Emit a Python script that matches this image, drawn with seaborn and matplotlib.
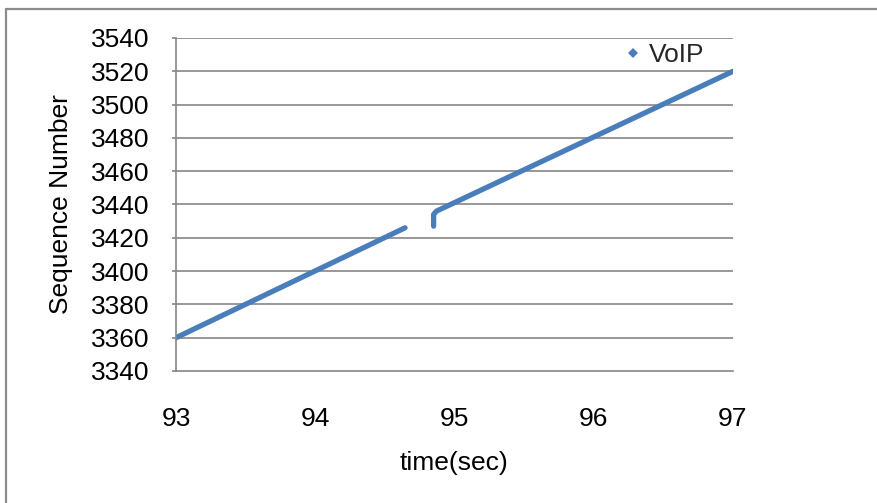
import matplotlib
matplotlib.use("Agg")
import matplotlib.pyplot as plt
from matplotlib.lines import Line2D
import seaborn as sns
import pandas as pd

# Sequence numbers of received VoIP packets (two runs separated by a loss gap)
run1_time = [93.0, 94.645]
run1_seq = [3360, 3426]
run2_time = [94.85, 94.85, 94.87, 97.0]
run2_seq = [3427, 3434, 3436, 3520]

y_ticks = list(range(3340, 3541, 20))
x_ticks = [93, 94, 95, 96, 97]

sns.set_theme(style="white")
plt.rcParams["font.family"] = ["Liberation Sans", "DejaVu Sans"]

FS = 19

fig = plt.figure(figsize=(8.78, 5.03), dpi=100)
ax = fig.add_axes([176 / 878, 1 - 371 / 503, 557 / 878, 333 / 503])

blue = "#4A7EBB"
grey = "#868686"

df = pd.concat([
    pd.DataFrame({"time": run1_time, "seq": run1_seq, "run": "a"}),
    pd.DataFrame({"time": run2_time, "seq": run2_seq, "run": "b"}),
])
sns.lineplot(data=df, x="time", y="seq", units="run", estimator=None, sort=False,
             color=blue, linewidth=3.8, solid_capstyle="round", solid_joinstyle="round",
             ax=ax, legend=False)

ax.set_xlim(93, 97)
ax.set_ylim(3340, 3540)
ax.set_xticks(x_ticks)
ax.set_yticks(y_ticks)
ax.grid(False)
for y in y_ticks[1:]:
    ax.axhline(y, color=grey, linewidth=1.2, zorder=0)

for side in ("top", "right"):
    ax.spines[side].set_visible(False)
for side in ("left", "bottom"):
    ax.spines[side].set_color(grey)
    ax.spines[side].set_linewidth(1.2)

ax.tick_params(axis="y", which="both", left=True, length=3, width=1.2, color=grey,
               pad=16, labelsize=FS, labelcolor="black")
ax.tick_params(axis="x", which="both", bottom=False, length=0, pad=26,
               labelsize=FS, labelcolor="black")

ax.set_xlabel("time(sec)", fontsize=FS, color="black", labelpad=14)
ax.set_ylabel("Sequence Number", fontsize=FS, color="black", labelpad=13)

handle = Line2D([], [], linestyle="none", marker="D", markersize=5,
                color=blue, markeredgewidth=0)
fig.legend([handle], ["VoIP"], loc="center left",
           bbox_to_anchor=(612 / 878, 1 - 55 / 503), frameon=False,
           fontsize=FS, handlelength=0.6, handletextpad=0.3, borderpad=0)

# Outer frame around the chart area
fig.add_artist(Line2D([6 / 878, 6 / 878], [0, 1 - 9 / 503], transform=fig.transFigure,
                      color="#8C8C8C", linewidth=1.6))
fig.add_artist(Line2D([6 / 878, 1], [1 - 9 / 503, 1 - 9 / 503], transform=fig.transFigure,
                      color="#8C8C8C", linewidth=1.6))

fig.savefig("out.png", dpi=100, facecolor="white")
